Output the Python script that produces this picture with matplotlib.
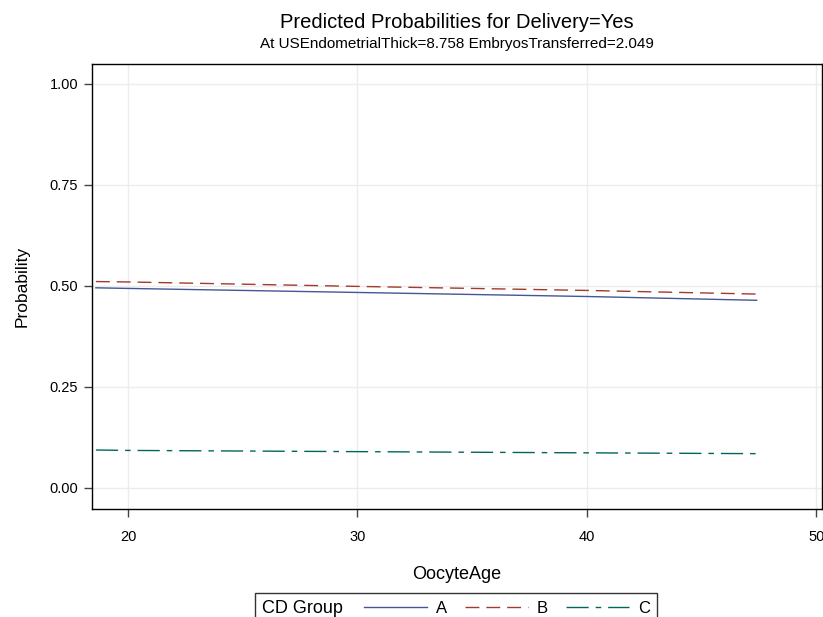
import matplotlib
matplotlib.use("Agg")
import matplotlib.pyplot as plt
from matplotlib.offsetbox import HPacker

plt.rcParams['font.family'] = ['Liberation Sans', 'DejaVu Sans']

# predicted probabilities
oocyte_age = [18.6, 20, 30, 40, 47.4]
prob_a = [0.4955, 0.494, 0.484, 0.474, 0.4646]
prob_b = [0.511, 0.510, 0.499, 0.489, 0.480]
prob_c = [0.094, 0.093, 0.090, 0.087, 0.085]
group_labels = ['A', 'B', 'C']
x_ticks = [20, 30, 40, 50]
y_ticks = [0.0, 0.25, 0.5, 0.75, 1.0]

fig = plt.figure(figsize=(8.23, 6.17), dpi=100)
ax = fig.add_axes([92 / 823, 108 / 617, 730 / 823, 445 / 617])

la, = ax.plot(oocyte_age, prob_a, color='#445694', lw=1, label=group_labels[0])
lb, = ax.plot(oocyte_age, prob_b, color='#A23A2E', lw=1, label=group_labels[1],
              dashes=(10, 5))
lc, = ax.plot(oocyte_age, prob_c, color='#01665E', lw=1, label=group_labels[2],
              dashes=(16, 5, 4, 5))

ax.set_xlim(18.43, 50.25)
ax.set_ylim(-0.052, 1.0495)
ax.set_xticks(x_ticks)
ax.set_yticks(y_ticks)
ax.set_yticklabels(['%.2f' % v for v in y_ticks])
ax.grid(True, color='#ececec', lw=1)
ax.set_axisbelow(True)
for s in ax.spines.values():
    s.set_linewidth(1)
    s.set_color('black')
ax.tick_params(length=6, width=1, color='#444444', labelsize=10.5, pad=4)
ax.tick_params(axis='x', pad=9)

ax.set_xlabel('OocyteAge', fontsize=13, labelpad=16)
ax.set_ylabel('Probability', fontsize=12.5, labelpad=14)

fig.text(457 / 823, 1 - 22 / 617, 'Predicted Probabilities for Delivery=Yes',
         ha='center', va='center', fontsize=14.5)
fig.text(457 / 823, 1 - 44 / 617, 'At USEndometrialThick=8.758 EmbryosTransferred=2.049',
         ha='center', va='center', fontsize=11)

leg = fig.legend(handles=[la, lb, lc], ncol=3, title='CD Group',
                 loc='upper center', bbox_to_anchor=(456 / 823, 1 - 593 / 617),
                 fontsize=12, title_fontsize=13, frameon=True, fancybox=False,
                 edgecolor='black', handlelength=3.8, handletextpad=0.5,
                 columnspacing=1.1, borderpad=0.2, borderaxespad=0)
leg.get_frame().set_linewidth(1)
# put the title beside the entries, as in the original
box = HPacker(pad=5, sep=15, align='center',
              children=[leg._legend_title_box, leg._legend_handle_box])
box.set_figure(fig)
box.set_offset(leg._findoffset)
leg._legend_box = box

fig.savefig('out.png', dpi=100)
